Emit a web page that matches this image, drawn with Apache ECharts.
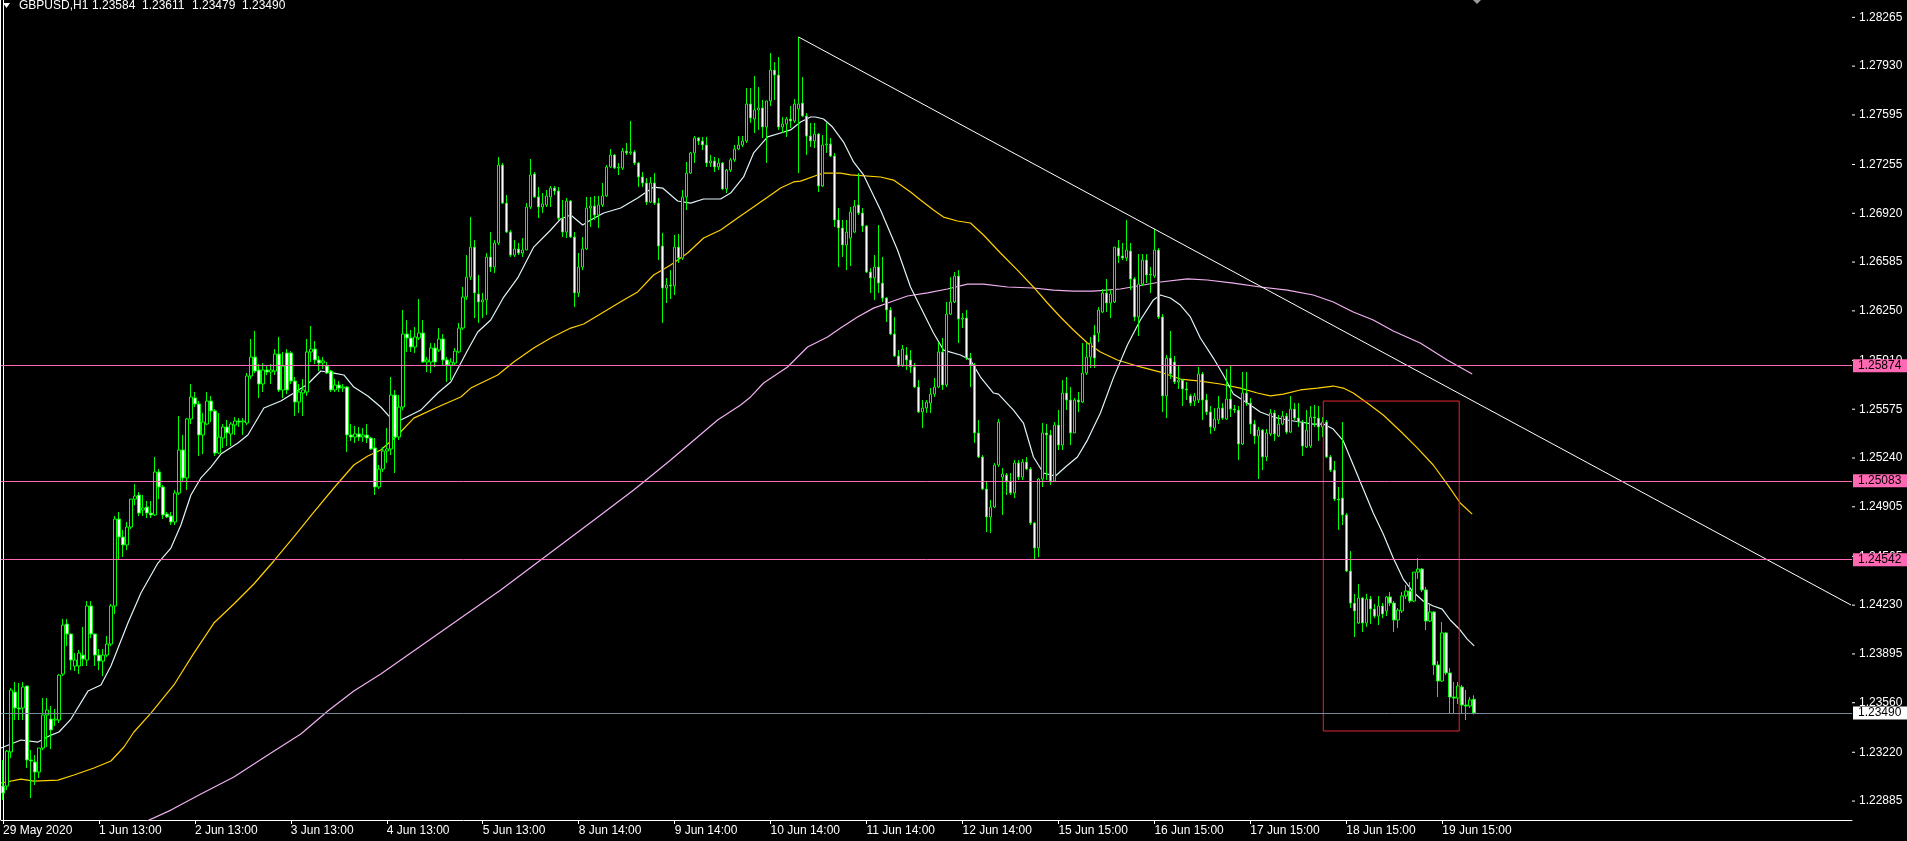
<!DOCTYPE html>
<html><head><meta charset="utf-8">
<script src="https://cdn.jsdelivr.net/npm/echarts/dist/echarts.min.js"></script>
<style>html,body{margin:0;padding:0;background:#000;overflow:hidden}#c{width:1907px;height:841px}</style>
</head><body><div id="c"></div>
<script>
// ---------- DATA ----------
const symbolText = 'GBPUSD,H1';
const headerOHLC = ['1.23584', '1.23611', '1.23479', '1.23490'];
const xTickLabels = ['29 May 2020','1 Jun 13:00','2 Jun 13:00','3 Jun 13:00','4 Jun 13:00','5 Jun 13:00','8 Jun 14:00','9 Jun 14:00','10 Jun 14:00','11 Jun 14:00','12 Jun 14:00','15 Jun 15:00','16 Jun 15:00','17 Jun 15:00','18 Jun 15:00','19 Jun 15:00'];
const barsPerLabel = 24;
const totalSlots = 463;
const yTicks = [1.22885,1.23220,1.23560,1.23895,1.24230,1.24565,1.24905,1.25240,1.25575,1.25910,1.26250,1.26585,1.26920,1.27255,1.27595,1.27930,1.28265];
const yMin = 1.22755, yMax = 1.28384;

const opens = [
1.22988,1.22988,1.23222,1.23633,1.23524,1.23524,1.23675,1.23167,1.23153,1.23084,
1.23249,1.23476,1.23448,1.23441,1.23441,1.23757,1.24100,1.24032,1.23812,1.23812,
1.23887,1.23853,1.24224,1.24032,1.23887,1.23846,1.23887,1.23963,1.24224,1.24821,
1.24698,1.24643,1.24766,1.24958,1.24986,1.24883,1.24903,1.24862,1.24849,1.25144,
1.25041,1.24855,1.24842,1.24801,1.25000,1.25295,1.25103,1.25508,1.25652,1.25611,
1.25398,1.25473,1.25631,1.25563,1.25274,1.25377,1.25453,1.25405,1.25466,1.25494,
1.25487,1.25480,1.25803,1.25933,1.25844,1.25748,1.25844,1.25830,1.25837,1.25954,
1.25707,1.25961,1.25961,1.25768,1.25624,1.25686,1.25693,1.25968,1.25988,1.25913,
1.25892,1.25871,1.25837,1.25707,1.25741,1.25720,1.25727,1.25398,1.25384,1.25405,
1.25384,1.25398,1.25377,1.25309,1.25041,1.25164,1.25288,1.25302,1.25672,1.25384,
1.25590,1.26091,1.26064,1.26002,1.26064,1.26098,1.25899,1.25899,1.25995,1.25981,
1.26057,1.25913,1.25878,1.25892,1.25968,1.26132,1.26345,1.26482,1.26688,1.26366,
1.26311,1.26325,1.26620,1.26551,1.26716,1.27251,1.26990,1.26791,1.26633,1.26675,
1.26647,1.26668,1.26963,1.27190,1.27032,1.26963,1.26977,1.27032,1.27093,1.27073,
1.26887,1.26791,1.27004,1.26757,1.26373,1.26551,1.26675,1.26956,1.26970,1.26908,
1.26977,1.27039,1.27238,1.27320,1.27231,1.27231,1.27347,1.27334,1.27341,1.27265,
1.27169,1.27128,1.26997,1.27128,1.26990,1.26695,1.26407,1.26428,1.26421,1.26688,
1.26613,1.27032,1.27196,1.27334,1.27437,1.27416,1.27389,1.27265,1.27279,1.27238,
1.27265,1.27087,1.27217,1.27286,1.27361,1.27389,1.27416,1.27670,1.27567,1.27629,
1.27643,1.27512,1.27691,1.27903,1.27869,1.27512,1.27533,1.27567,1.27553,1.27636,
1.27677,1.27588,1.27450,1.27416,1.27464,1.27107,1.27389,1.27395,1.27313,1.26874,
1.26819,1.26702,1.26750,1.26791,1.26977,1.26922,1.26833,1.26517,1.26476,1.26551,
1.26441,1.26338,1.26256,1.26091,1.25940,1.25878,1.25947,1.25913,1.25865,1.25727,
1.25556,1.25583,1.25617,1.25679,1.25727,1.25968,1.25741,1.26228,1.26311,1.26489,
1.26194,1.26201,1.25926,1.25878,1.25412,1.25247,1.25027,1.24835,1.24903,1.25192,
1.25109,1.25123,1.25082,1.25000,1.25206,1.25109,1.25212,1.25164,1.24794,1.24622,
1.25096,1.25412,1.25398,1.25082,1.25466,1.25329,1.25686,1.25638,1.25412,1.25638,
1.25624,1.25823,1.25933,1.26084,1.26098,1.26242,1.26373,1.26304,1.26311,1.26682,
1.26627,1.26613,1.26661,1.26469,1.26208,1.26434,1.26599,1.26496,1.26489,1.26668,
1.26208,1.25666,1.25926,1.25899,1.25762,1.25775,1.25714,1.25666,1.25631,1.25638,
1.25817,1.25638,1.25556,1.25446,1.25501,1.25583,1.25508,1.25645,1.25576,1.25569,
1.25336,1.25686,1.25617,1.25473,1.25391,1.25432,1.25247,1.25405,1.25549,1.25391,
1.25473,1.25528,1.25418,1.25576,1.25514,1.25487,1.25315,1.25322,1.25521,1.25514,
1.25453,1.25487,1.25247,1.25157,1.24958,1.24965,1.24849,1.24464,1.24244,1.24107,
1.24279,1.24107,1.24272,1.24203,1.24155,1.24224,1.24190,1.24286,1.24244,1.24128,
1.24190,1.24293,1.24327,1.24258,1.24457,1.24478,1.24334,1.24121,1.24183,1.23819,
1.23709,1.24039,1.23764,1.23599,1.23592,1.23668,1.23544,1.23537,1.23584];
const closes = [
1.22940,1.23228,1.23647,1.23524,1.23517,1.23668,1.23167,1.23160,1.23084,1.23249,
1.23476,1.23510,1.23373,1.23448,1.23750,1.24093,1.24032,1.23853,1.23853,1.23901,
1.23860,1.24224,1.24032,1.23887,1.23846,1.23887,1.23963,1.24224,1.24821,1.24698,
1.24643,1.24766,1.24958,1.24979,1.24862,1.24897,1.24862,1.24849,1.25144,1.25041,
1.24849,1.24835,1.24801,1.25000,1.25295,1.25103,1.25508,1.25659,1.25611,1.25398,
1.25487,1.25631,1.25563,1.25274,1.25384,1.25453,1.25412,1.25473,1.25494,1.25487,
1.25494,1.25803,1.25933,1.25837,1.25748,1.25844,1.25830,1.25844,1.25954,1.25707,
1.25871,1.25707,1.25768,1.25624,1.25693,1.25707,1.25968,1.25988,1.25913,1.25892,
1.25906,1.25823,1.25707,1.25741,1.25720,1.25727,1.25398,1.25384,1.25405,1.25384,
1.25398,1.25377,1.25302,1.25041,1.25164,1.25288,1.25302,1.25672,1.25384,1.25590,
1.26091,1.26064,1.26002,1.26071,1.26098,1.25899,1.25913,1.25995,1.25899,1.26057,
1.25913,1.25878,1.25899,1.25974,1.26132,1.26345,1.26482,1.26688,1.26373,1.26311,
1.26325,1.26620,1.26551,1.26716,1.27251,1.26990,1.26791,1.26633,1.26675,1.26647,
1.26668,1.26963,1.27183,1.27032,1.26963,1.26984,1.27039,1.27093,1.27073,1.26887,
1.26791,1.27004,1.26757,1.26373,1.26551,1.26675,1.26956,1.26970,1.26908,1.26977,
1.27039,1.27238,1.27320,1.27231,1.27238,1.27347,1.27334,1.27341,1.27265,1.27169,
1.27128,1.26997,1.27128,1.26990,1.26695,1.26407,1.26428,1.26421,1.26688,1.26613,
1.27032,1.27196,1.27334,1.27437,1.27416,1.27389,1.27265,1.27279,1.27238,1.27265,
1.27087,1.27217,1.27286,1.27361,1.27389,1.27416,1.27670,1.27574,1.27629,1.27643,
1.27512,1.27691,1.27903,1.27869,1.27512,1.27533,1.27567,1.27553,1.27670,1.27670,
1.27588,1.27450,1.27416,1.27464,1.27107,1.27389,1.27395,1.27313,1.26874,1.26819,
1.26702,1.26791,1.26929,1.26970,1.26922,1.26833,1.26517,1.26476,1.26551,1.26441,
1.26338,1.26256,1.26091,1.25940,1.25878,1.25988,1.25913,1.25865,1.25727,1.25556,
1.25583,1.25624,1.25679,1.25727,1.25968,1.25741,1.26228,1.26311,1.26489,1.26194,
1.26201,1.25926,1.25878,1.25412,1.25247,1.25027,1.24835,1.24903,1.25192,1.25487,
1.25130,1.25082,1.25000,1.25206,1.25109,1.25212,1.25164,1.24794,1.24622,1.25096,
1.25412,1.25398,1.25082,1.25466,1.25329,1.25686,1.25638,1.25412,1.25638,1.25624,
1.25823,1.25933,1.26029,1.25926,1.26256,1.26373,1.26304,1.26366,1.26688,1.26627,
1.26613,1.26668,1.26469,1.26208,1.26434,1.26599,1.26496,1.26503,1.26668,1.26208,
1.25666,1.25926,1.25817,1.25762,1.25775,1.25714,1.25707,1.25617,1.25666,1.25817,
1.25638,1.25556,1.25453,1.25508,1.25583,1.25514,1.25645,1.25576,1.25569,1.25336,
1.25686,1.25617,1.25473,1.25391,1.25432,1.25247,1.25412,1.25549,1.25405,1.25473,
1.25528,1.25418,1.25576,1.25514,1.25487,1.25322,1.25432,1.25521,1.25514,1.25453,
1.25487,1.25247,1.25157,1.24958,1.24952,1.24849,1.24464,1.24244,1.24190,1.24279,
1.24107,1.24272,1.24203,1.24155,1.24224,1.24169,1.24286,1.24244,1.24128,1.24196,
1.24293,1.24327,1.24258,1.24457,1.24478,1.24334,1.24121,1.24183,1.23819,1.23709,
1.24039,1.23764,1.23599,1.23592,1.23675,1.23544,1.23537,1.23579,1.23490];
const highs = [
1.23167,1.23235,1.23661,1.23702,1.23695,1.23702,1.23675,1.23235,1.23201,1.23249,
1.23592,1.23592,1.23537,1.23517,1.23757,1.24135,1.24135,1.24032,1.23901,1.23922,
1.24080,1.24258,1.24258,1.24032,1.23929,1.23929,1.24018,1.24238,1.24842,1.24869,
1.24746,1.24801,1.24958,1.25061,1.25006,1.24986,1.24945,1.24945,1.25247,1.25164,
1.25055,1.24869,1.24869,1.25020,1.25528,1.25398,1.25514,1.25748,1.25693,1.25631,
1.25549,1.25693,1.25666,1.25576,1.25549,1.25473,1.25501,1.25487,1.25521,1.25514,
1.25514,1.25823,1.26057,1.26112,1.25885,1.25892,1.25871,1.25885,1.25988,1.26071,
1.25968,1.25988,1.25974,1.25796,1.25748,1.25782,1.26057,1.26146,1.26043,1.25940,
1.25933,1.25899,1.25844,1.25782,1.25768,1.25748,1.25734,1.25473,1.25460,1.25453,
1.25446,1.25473,1.25384,1.25377,1.25192,1.25315,1.25446,1.25796,1.25707,1.25672,
1.26256,1.26187,1.26119,1.26139,1.26331,1.26187,1.25933,1.26029,1.26029,1.26132,
1.26091,1.25933,1.25926,1.25995,1.26167,1.26414,1.26633,1.26894,1.26736,1.26496,
1.26373,1.26647,1.26791,1.26736,1.27306,1.27265,1.27045,1.26805,1.26736,1.26716,
1.26750,1.26990,1.27293,1.27203,1.27100,1.27059,1.27080,1.27107,1.27107,1.27100,
1.27011,1.27025,1.27011,1.26791,1.26647,1.26757,1.27032,1.27032,1.27039,1.27039,
1.27128,1.27251,1.27361,1.27327,1.27265,1.27368,1.27402,1.27553,1.27354,1.27272,
1.27203,1.27162,1.27169,1.27196,1.27025,1.26785,1.26476,1.26530,1.26771,1.26778,
1.27080,1.27272,1.27341,1.27450,1.27444,1.27444,1.27444,1.27320,1.27306,1.27299,
1.27272,1.27224,1.27299,1.27389,1.27450,1.27450,1.27780,1.27780,1.27862,1.27787,
1.27698,1.27691,1.28020,1.27958,1.27993,1.27581,1.27581,1.27656,1.27704,1.28130,
1.27855,1.27608,1.27540,1.27540,1.27471,1.27457,1.27540,1.27437,1.27334,1.26956,
1.26874,1.26874,1.26963,1.27011,1.27196,1.26956,1.26839,1.26544,1.26633,1.26839,
1.26620,1.26345,1.26276,1.26208,1.25981,1.26016,1.26002,1.25981,1.25892,1.25775,
1.25638,1.25638,1.25720,1.25789,1.26036,1.26064,1.26311,1.26482,1.26517,1.26530,
1.26235,1.26256,1.25961,1.25892,1.25501,1.25260,1.25075,1.24952,1.25206,1.25508,
1.25171,1.25137,1.25137,1.25226,1.25226,1.25233,1.25247,1.25178,1.24801,1.25103,
1.25480,1.25473,1.25432,1.25487,1.25569,1.25775,1.25796,1.25727,1.25652,1.25693,
1.26029,1.26029,1.26071,1.26153,1.26276,1.26400,1.26469,1.26393,1.26688,1.26736,
1.26716,1.26874,1.26716,1.26482,1.26640,1.26640,1.26640,1.26551,1.26812,1.26682,
1.26228,1.25947,1.26112,1.25940,1.25878,1.25782,1.25762,1.25679,1.25686,1.25865,
1.25830,1.25679,1.25597,1.25583,1.25666,1.25617,1.25851,1.25878,1.25604,1.25597,
1.25830,1.25830,1.25652,1.25501,1.25453,1.25439,1.25439,1.25576,1.25569,1.25535,
1.25563,1.25549,1.25666,1.25617,1.25617,1.25501,1.25569,1.25597,1.25604,1.25597,
1.25521,1.25501,1.25260,1.25219,1.25041,1.25487,1.24862,1.24601,1.24306,1.24375,
1.24286,1.24306,1.24293,1.24238,1.24293,1.24244,1.24293,1.24320,1.24258,1.24210,
1.24320,1.24368,1.24389,1.24457,1.24553,1.24485,1.24354,1.24244,1.24190,1.23846,
1.24114,1.24045,1.23798,1.23702,1.23702,1.23682,1.23647,1.23599,1.23611];
const lows = [
1.22892,1.22961,1.23180,1.23441,1.23441,1.23441,1.23112,1.22906,1.22995,1.23043,
1.23235,1.23256,1.23242,1.23400,1.23421,1.23743,1.23949,1.23784,1.23778,1.23757,
1.23812,1.23812,1.24004,1.23812,1.23784,1.23743,1.23874,1.23949,1.24169,1.24547,
1.24560,1.24608,1.24752,1.24917,1.24842,1.24842,1.24828,1.24828,1.24842,1.24958,
1.24821,1.24828,1.24780,1.24780,1.24986,1.25075,1.25020,1.25473,1.25590,1.25254,
1.25267,1.25466,1.25487,1.25254,1.25267,1.25309,1.25322,1.25322,1.25398,1.25453,
1.25398,1.25466,1.25782,1.25823,1.25652,1.25693,1.25810,1.25748,1.25810,1.25693,
1.25652,1.25679,1.25748,1.25528,1.25549,1.25528,1.25666,1.25899,1.25885,1.25837,
1.25851,1.25817,1.25693,1.25693,1.25693,1.25693,1.25281,1.25357,1.25343,1.25357,
1.25350,1.25343,1.25295,1.24986,1.25027,1.25144,1.25206,1.25260,1.25137,1.25363,
1.25569,1.25968,1.25968,1.25961,1.26050,1.25892,1.25830,1.25823,1.25865,1.25968,
1.25878,1.25762,1.25775,1.25878,1.25961,1.26119,1.26325,1.26462,1.26201,1.26167,
1.26201,1.26222,1.26517,1.26510,1.26702,1.26984,1.26785,1.26620,1.26620,1.26633,
1.26620,1.26668,1.26949,1.27025,1.26887,1.26922,1.26963,1.26963,1.27045,1.26874,
1.26757,1.26750,1.26750,1.26276,1.26345,1.26530,1.26668,1.26826,1.26874,1.26819,
1.26963,1.27032,1.27231,1.27224,1.27183,1.27217,1.27320,1.27320,1.27251,1.27100,
1.27100,1.26977,1.26990,1.26977,1.26599,1.26167,1.26304,1.26331,1.26359,1.26579,
1.26599,1.26942,1.27190,1.27265,1.27389,1.27354,1.27238,1.27238,1.27203,1.27217,
1.27080,1.27059,1.27203,1.27272,1.27354,1.27375,1.27402,1.27540,1.27471,1.27492,
1.27437,1.27265,1.27656,1.27698,1.27492,1.27471,1.27444,1.27505,1.27540,1.27196,
1.27581,1.27320,1.27375,1.27368,1.27066,1.27100,1.27334,1.27306,1.26826,1.26551,
1.26620,1.26530,1.26558,1.26785,1.26908,1.26791,1.26510,1.26373,1.26325,1.26373,
1.26311,1.26174,1.26084,1.25933,1.25865,1.25865,1.25844,1.25823,1.25720,1.25549,
1.25446,1.25549,1.25549,1.25659,1.25720,1.25707,1.25727,1.26222,1.26304,1.26029,
1.26132,1.25913,1.25727,1.25343,1.25240,1.25020,1.24732,1.24725,1.24897,1.25178,
1.24849,1.24986,1.24986,1.24965,1.25089,1.25089,1.25157,1.24780,1.24540,1.24560,
1.25041,1.25089,1.25055,1.25075,1.25295,1.25295,1.25569,1.25329,1.25412,1.25556,
1.25617,1.25810,1.25858,1.25858,1.26036,1.26235,1.26242,1.26201,1.26304,1.26579,
1.26599,1.26592,1.26393,1.26180,1.26077,1.26421,1.26441,1.26373,1.26476,1.26194,
1.25556,1.25514,1.25782,1.25748,1.25714,1.25597,1.25638,1.25597,1.25597,1.25617,
1.25501,1.25535,1.25405,1.25425,1.25473,1.25501,1.25501,1.25521,1.25549,1.25226,
1.25329,1.25597,1.25405,1.25336,1.25096,1.25157,1.25219,1.25391,1.25357,1.25384,
1.25466,1.25405,1.25412,1.25501,1.25453,1.25254,1.25309,1.25309,1.25453,1.25357,
1.25384,1.25240,1.25144,1.24945,1.24746,1.24780,1.24457,1.24210,1.24011,1.24100,
1.24045,1.24080,1.24100,1.24141,1.24093,1.24141,1.24155,1.24224,1.24045,1.24073,
1.24176,1.24272,1.24244,1.24251,1.24409,1.24320,1.24059,1.24114,1.23750,1.23599,
1.23702,1.23750,1.23482,1.23482,1.23551,1.23489,1.23441,1.23524,1.23479];

// moving averages: [bar position, price]
const maFast = [[-0.5,1.23249],[4.5,1.23304],[8.75,1.23290],[12,1.23338],[14,1.23359],[17,1.23448],[21.25,1.23640],[24.5,1.23682],[27,1.23812],[31.25,1.24107],[34.5,1.24313],[38.75,1.24519],[42,1.24622],[44.5,1.24780],[47,1.24986],[49.5,1.25103],[52,1.25178],[54.5,1.25267],[58.75,1.25343],[61.25,1.25398],[65.25,1.25583],[69.5,1.25631],[72.75,1.25686],[76.25,1.25748],[79.5,1.25837],[82.75,1.25823],[85.25,1.25810],[87.75,1.25727],[91.25,1.25666],[94.5,1.25590],[97,1.25514],[99,1.25494],[104.5,1.25569],[108.75,1.25686],[112,1.25762],[116.25,1.25981],[118.75,1.26105],[122,1.26187],[125.25,1.26345],[128.75,1.26476],[132.75,1.26688],[137,1.26805],[139.5,1.26881],[142,1.26908],[145,1.26839],[147,1.26874],[150.25,1.26922],[154.5,1.26956],[158.75,1.27025],[162.75,1.27100],[165,1.27093],[168.75,1.27004],[172,1.26990],[175.25,1.27018],[179.5,1.27018],[182,1.27059],[185.25,1.27169],[187.75,1.27334],[191.25,1.27444],[194.5,1.27471],[197,1.27492],[199.5,1.27547],[202,1.27581],[203.25,1.27581],[205.25,1.27567],[207.5,1.27512],[210.25,1.27409],[212.75,1.27272],[215.25,1.27183],[219.5,1.26942],[223.75,1.26668],[227,1.26414],[229.5,1.26276],[232.75,1.26098],[235.25,1.25981],[239.5,1.25947],[242,1.25913],[244.5,1.25796],[247.75,1.25686],[249,1.25679],[252.75,1.25569],[255.25,1.25480],[257.75,1.25247],[260.25,1.25137],[263.25,1.25116],[265.75,1.25178],[268.75,1.25247],[271.25,1.25363],[274.5,1.25549],[277.75,1.25790],[281.25,1.26016],[284.5,1.26187],[287.75,1.26325],[289.5,1.26359],[292,1.26338],[294.5,1.26290],[297,1.26208],[299.5,1.26064],[302.75,1.25926],[305.25,1.25810],[307.75,1.25679],[311.25,1.25617],[314.5,1.25556],[317.75,1.25521],[321.25,1.25501],[324.5,1.25487],[327.75,1.25473],[330.25,1.25473],[332.75,1.25439],[335.25,1.25357],[337.75,1.25192],[340.25,1.25027],[342.75,1.24862],[345.25,1.24718],[347.75,1.24553],[350.25,1.24409],[352.75,1.24320],[355.25,1.24258],[357.75,1.24224],[360,1.24203],[362,1.24128],[364.5,1.24059],[366.25,1.23997],[368,1.23950]];
const maMid = [[-0.5,1.23009],[4.5,1.23036],[7.75,1.23022],[13.75,1.23029],[17.75,1.23064],[22.75,1.23112],[27,1.23160],[30.25,1.23256],[32.75,1.23359],[37,1.23489],[42.75,1.23682],[47.75,1.23901],[52.75,1.24107],[57.75,1.24238],[62.75,1.24375],[67.75,1.24533],[72.75,1.24698],[77.75,1.24869],[82.75,1.25034],[87.75,1.25192],[91.25,1.25254],[94.5,1.25295],[98.75,1.25398],[102.75,1.25514],[108.75,1.25590],[114.5,1.25659],[117,1.25720],[123.75,1.25810],[127.75,1.25899],[132.75,1.25995],[137,1.26064],[142,1.26132],[145.25,1.26160],[150.25,1.26242],[155.25,1.26325],[158.75,1.26380],[162.75,1.26496],[167,1.26565],[171.25,1.26647],[175.25,1.26750],[179.5,1.26805],[183.75,1.26887],[187,1.26949],[189.5,1.26997],[192.75,1.27059],[194.5,1.27093],[197.75,1.27135],[199.5,1.27141],[203.75,1.27183],[205.25,1.27196],[209.5,1.27196],[212,1.27183],[219.5,1.27169],[222.75,1.27148],[227,1.27066],[229.5,1.27011],[232.75,1.26942],[235.25,1.26894],[238.75,1.26867],[242,1.26853],[245.25,1.26771],[249.5,1.26647],[253.75,1.26530],[257.75,1.26414],[261.25,1.26304],[264.5,1.26208],[267.75,1.26119],[271.25,1.26029],[274.5,1.25968],[278.75,1.25913],[284.5,1.25865],[289.5,1.25830],[294.5,1.25782],[299.5,1.25768],[304.5,1.25748],[309.5,1.25720],[313.75,1.25686],[317,1.25666],[320.25,1.25679],[324.5,1.25707],[328.75,1.25720],[332.75,1.25734],[335.25,1.25720],[337.75,1.25686],[341.25,1.25617],[345.25,1.25535],[349.5,1.25425],[353.75,1.25309],[357.75,1.25192],[361.25,1.25061],[364.5,1.24931],[367.5,1.24855]];
const maSlow = [[36,1.22748],[42,1.22823],[49.5,1.22933],[57.75,1.23050],[66.25,1.23201],[74.5,1.23345],[81.25,1.23503],[87.75,1.23640],[94.5,1.23757],[112,1.24093],[124.5,1.24334],[139.5,1.24643],[149.5,1.24849],[157.75,1.25020],[160.25,1.25075],[167,1.25226],[172,1.25343],[178.75,1.25501],[184.5,1.25604],[187,1.25659],[190.25,1.25755],[196.25,1.25865],[201.25,1.26002],[206.25,1.26071],[209.5,1.26132],[213.75,1.26208],[217.75,1.26269],[222,1.26311],[226.25,1.26352],[231.25,1.26373],[236.25,1.26400],[241.25,1.26434],[245.25,1.26434],[251.25,1.26414],[257.75,1.26407],[262.75,1.26393],[267.75,1.26386],[272.75,1.26386],[279.5,1.26400],[289.5,1.26448],[296.25,1.26469],[301.25,1.26462],[307.75,1.26441],[314.5,1.26414],[321.25,1.26393],[327.75,1.26359],[332.75,1.26311],[337.75,1.26242],[342.75,1.26187],[347.75,1.26112],[354.5,1.26029],[361.25,1.25913],[367.5,1.25817]];

const trendBars = [199, 462.25];
const trendPrices = [1.28130, 1.24231];
const rectBars = [330.25, 364.25];
const rectPrices = [1.25631, 1.23366];
const levelPrices = [1.25874, 1.25083, 1.24542];
const bidPrice = 1.23490;
const shiftMarkBar = 368.75;

// ---------- CHART ----------
const FONT = '"Liberation Sans", Arial, sans-serif';
const slotCats = Array.from({length: totalSlots}, (_, i) => String(i));
const showTick = i => i % barsPerLabel === 0 && (i / barsPerLabel) < xTickLabels.length;
const ohlc = opens.map((o, i) => [o, closes[i], lows[i], highs[i]]);
const rectPts = [[rectBars[0], rectPrices[0]], [rectBars[1], rectPrices[0]], [rectBars[1], rectPrices[1]], [rectBars[0], rectPrices[1]], [rectBars[0], rectPrices[0]]];
const trendPts = trendBars.map((b, i) => [b, trendPrices[i]]);

function levelLine(v, lineColor, boxColor) {
  return {
    yAxis: v,
    lineStyle: {color: lineColor, width: 1, type: 'solid'},
    label: {show: true, position: 'end', distance: 1, formatter: () => v.toFixed(5),
      backgroundColor: boxColor, color: '#000', fontSize: 12, fontFamily: FONT,
      padding: [1, 0, 0, 5], width: 49, height: 12, lineHeight: 12, align: 'left'}
  };
}

const chart = echarts.init(document.getElementById('c'), null, {renderer: 'canvas'});
chart.setOption({
  backgroundColor: '#000',
  animation: false,
  grid: {left: 0, top: 0, width: 1852, height: 820, containLabel: false},
  xAxis: [
    {type: 'category', data: slotCats, boundaryGap: true,
     axisLine: {show: true, onZero: false, lineStyle: {color: '#fff', width: 1}},
     axisTick: {show: true, alignWithLabel: true, interval: i => showTick(i), length: 4, lineStyle: {color: '#fff'}},
     axisLabel: {show: true, interval: i => showTick(i), formatter: (v, i) => xTickLabels[i / barsPerLabel],
       color: '#fff', fontSize: 12, fontFamily: FONT, align: 'left', margin: 5},
     splitLine: {show: false}},
    {type: 'value', min: -0.5, max: totalSlots - 0.5, show: false}
  ],
  yAxis: [
    {type: 'value', position: 'right', min: yMin, max: yMax,
     axisLine: {show: true, lineStyle: {color: '#fff'}},
     axisTick: {show: false},
     minorTick: {show: false},
     splitLine: {show: false},
     splitArea: {show: false},
     axisLabel: {show: true, customValues: yTicks, margin: 0,
       formatter: v => '{t|}{v|' + v.toFixed(5) + '}',
       rich: {t: {width: 3, height: 1, backgroundColor: '#fff', verticalAlign: 'middle'},
              v: {color: '#fff', fontSize: 12, fontFamily: FONT, padding: [0, 0, 0, 4], verticalAlign: 'middle'}}}}
  ],
  graphic: [
    {type: 'line', shape: {x1: 0.5, y1: 0, x2: 0.5, y2: 820}, style: {stroke: '#fff', lineWidth: 1}},
    {type: 'polygon', shape: {points: [[3, 3], [10, 3], [6.5, 8]]}, style: {fill: '#fff'}},
    {type: 'polygon', shape: {points: [[2 + 4 * shiftMarkBar - 4, 0], [2 + 4 * shiftMarkBar + 4, 0], [2 + 4 * shiftMarkBar, 4]]}, style: {fill: '#9a9a9a'}},
    {type: 'text', left: 19, top: 0, style: {text: symbolText, fill: '#fff', font: '12px ' + FONT}},
    ...headerOHLC.map((t, k) => ({type: 'text', left: 92 + 50 * k, top: 0, style: {text: t, fill: '#fff', font: '12px ' + FONT}}))
  ],
  series: [
    {type: 'line', xAxisIndex: 1, yAxisIndex: 0, data: maSlow, showSymbol: false, silent: true,
     lineStyle: {color: '#f0b0f0', width: 1.2}, z: 1},
    {type: 'line', xAxisIndex: 1, yAxisIndex: 0, data: maMid, showSymbol: false, silent: true,
     lineStyle: {color: '#ffd000', width: 1.2}, z: 1},
    {type: 'line', xAxisIndex: 1, yAxisIndex: 0, data: maFast, showSymbol: false, silent: true,
     lineStyle: {color: '#dff3f8', width: 1.2}, z: 1},
    {type: 'candlestick', xAxisIndex: 0, yAxisIndex: 0, data: ohlc, barWidth: 3, silent: true, z: 3,
     itemStyle: {color: '#000', color0: '#fff', borderColor: '#00ff00', borderColor0: '#00ff00', borderWidth: 1},
     markLine: {silent: true, symbol: ['none', 'none'], animation: false, precision: 5,
       data: [...levelPrices.map(v => levelLine(v, '#ff69b4', '#ff69b4')), levelLine(bidPrice, '#778899', '#ffffff')]}},
    {type: 'line', xAxisIndex: 1, yAxisIndex: 0, data: trendPts, showSymbol: false, silent: true,
     lineStyle: {color: '#ffffff', width: 1}, z: 4},
    {type: 'line', xAxisIndex: 1, yAxisIndex: 0, data: rectPts, showSymbol: false, silent: true,
     lineStyle: {color: '#e0262e', width: 1}, z: 4}
  ]
});
</script></body></html>
